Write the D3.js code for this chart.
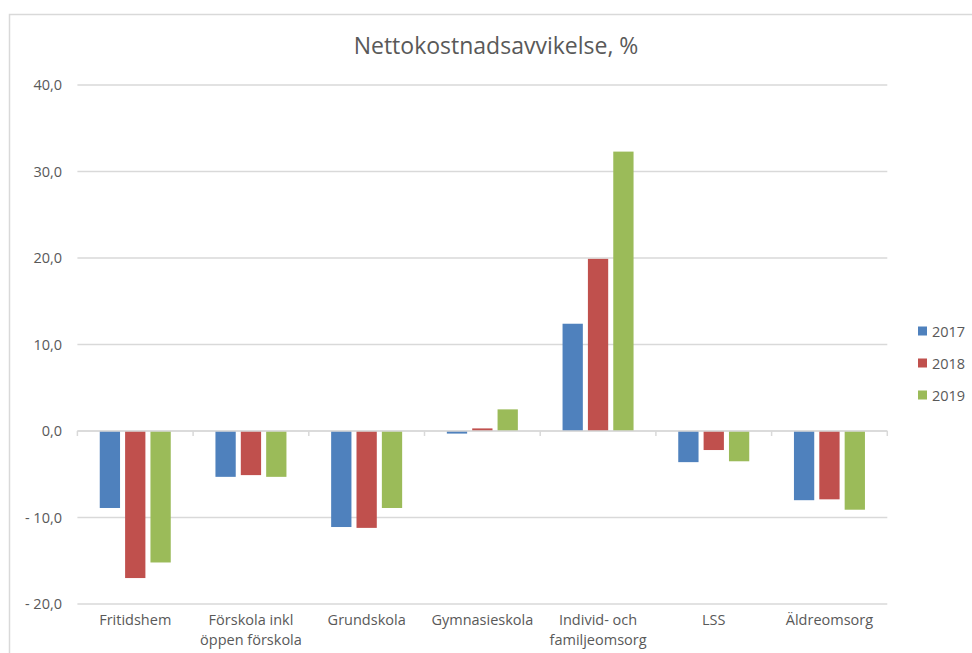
<!DOCTYPE html>
<html>
<head>
<meta charset="utf-8">
<script src="https://cdn.jsdelivr.net/npm/d3@7"></script>
<style>
  body { margin: 0; background: #fff; }
  svg { font-family: "Open Sans", "Noto Sans", sans-serif; }
</style>
</head>
<body>
<div id="chart"></div>
<script>
var categories = ['Fritidshem', 'Förskola inkl\nöppen förskola', 'Grundskola', 'Gymnasieskola', 'Individ- och\nfamiljeomsorg', 'LSS', 'Äldreomsorg']
var years = ['2017', '2018', '2019']
var v2017 = [-8.9, -5.3, -11.1, -0.3, 12.4, -3.6, -8.0]
var v2018 = [-17.0, -5.1, -11.2, 0.3, 19.9, -2.2, -7.9]
var v2019 = [-15.2, -5.3, -8.9, 2.5, 32.3, -3.5, -9.1]
var yTicks = [-20, -10, 0, 10, 20, 30, 40]
var colors = ['#4F81BD', '#C0504D', '#9BBB59']

var width = 972, height = 653
var svg = d3.select('#chart').append('svg')
  .attr('width', width).attr('height', height)

// chart frame (only top/left visible in the screenshot)
svg.append('path')
  .attr('d', 'M9.5,' + height + 'V14.5H' + width)
  .attr('fill', 'none').attr('stroke', '#d9d9d9').attr('stroke-width', 1.5)

svg.append('text')
  .attr('x', 496).attr('y', 54)
  .attr('text-anchor', 'middle')
  .attr('font-size', 23).attr('fill', '#595959')
  .text('Nettokostnadsavvikelse, %')

var x0 = d3.scaleBand().domain(d3.range(categories.length)).range([77.4, 887.3])
var x1 = d3.scaleBand().domain(years).range([0, 71]).paddingInner(0.2)
var y = d3.scaleLinear().domain([-20, 40]).range([604, 85])

var fmt = function(d) {
  var s = d3.format('.1f')(Math.abs(d)).replace('.', ',')
  return d < 0 ? '- ' + s : s
}

// gridlines
svg.append('g').selectAll('line').data(yTicks).enter().append('line')
  .attr('x1', 77.4).attr('x2', 887.3)
  .attr('y1', function(d){ return y(d) }).attr('y2', function(d){ return y(d) })
  .attr('stroke', '#d9d9d9').attr('stroke-width', 1.5)

svg.append('g').selectAll('text').data(yTicks).enter().append('text')
  .attr('x', 62).attr('y', function(d){ return y(d) + 5 })
  .attr('text-anchor', 'end').attr('font-size', 14.5).attr('fill', '#595959')
  .text(fmt)

// bars
var series = [v2017, v2018, v2019]
var g = svg.append('g')
years.forEach(function(yr, i) {
  g.selectAll('rect.s' + i).data(series[i]).enter().append('rect')
    .attr('class', 's' + i)
    .attr('x', function(d, j){ return x0(j) + (x0.bandwidth() - 71) / 2 + x1(yr) })
    .attr('width', x1.bandwidth())
    .attr('y', function(d){ return Math.min(y(d), y(0)) })
    .attr('height', function(d){ return Math.abs(y(d) - y(0)) })
    .attr('fill', colors[i])
})

// zero axis with ticks
var axis = svg.append('g').attr('transform', 'translate(0,' + y(0) + ')')
axis.append('line').attr('x1', 77.4).attr('x2', 887.3)
  .attr('stroke', '#d9d9d9').attr('stroke-width', 1.5)
axis.selectAll('line.tick').data(d3.range(categories.length + 1)).enter().append('line')
  .attr('class', 'tick')
  .attr('x1', function(d){ return d < categories.length ? x0(d) : 887.3 })
  .attr('x2', function(d){ return d < categories.length ? x0(d) : 887.3 })
  .attr('y1', 0).attr('y2', 5)
  .attr('stroke', '#d9d9d9').attr('stroke-width', 1.5)

// category labels
svg.append('g').selectAll('text').data(categories).enter().append('text')
  .attr('text-anchor', 'middle').attr('font-size', 14.5).attr('fill', '#595959')
  .attr('transform', function(d, j){ return 'translate(' + (x0(j) + x0.bandwidth() / 2) + ',625)' })
  .each(function(d) {
    var t = d3.select(this)
    d.split('\n').forEach(function(line, k) {
      t.append('tspan').attr('x', 0).attr('dy', k ? 20 : 0).text(line)
    })
  })

// legend
var leg = svg.append('g').selectAll('g').data(years).enter().append('g')
  .attr('transform', function(d, i){ return 'translate(918,' + (331 + i * 32) + ')' })
leg.append('rect').attr('x', 0).attr('y', -4.5).attr('width', 9).attr('height', 9)
  .attr('fill', function(d, i){ return colors[i] })
leg.append('text').attr('x', 14).attr('y', 5.5)
  .attr('font-size', 14.5).attr('fill', '#595959')
  .text(function(d){ return d })
</script>
</body>
</html>
